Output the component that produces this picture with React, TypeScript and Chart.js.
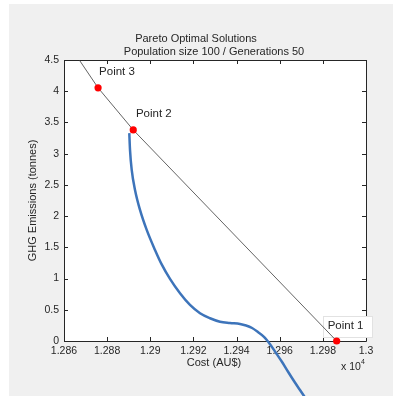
import React, { useEffect, useRef } from "react";
import { Chart, registerables } from "chart.js";
Chart.register(...registerables);

// ---- data ----
const curveCost = [
  12890.27, 12890.6, 12891.39, 12892.92, 12895.24, 12898.34, 12902.19, 12905.29, 12909.14, 12913.78,
  12918.41, 12923.05, 12927.68, 12932.32, 12936.96, 12941.6, 12944.4, 12947.2, 12949.9, 12952.7,
  12955.5, 12958.3, 12961.1, 12963.8, 12966.6, 12969.4, 12972.2,
];
const curveGhg = [
  3.329, 3.061, 2.74, 2.42, 2.099, 1.779, 1.458, 1.226, 0.994, 0.764,
  0.577, 0.444, 0.364, 0.309, 0.288, 0.272, 0.248, 0.208, 0.144, 0.067,
  -0.051, -0.192, -0.337, -0.489, -0.641, -0.785, -0.93,
];

const lineCost = [12867.1, 12875.8, 12892.1, 12986.4];
const lineGhg = [4.5, 4.054, 3.38, 0];

const pointNames = ["Point 1", "Point 2", "Point 3"];
const pointCost = [12986.4, 12892.1, 12875.8];
const pointGhg = [0, 3.38, 4.054];

const xTickMin = 12860;
const xTickMax = 13000;
const xTickStep = 20;
const yTickMin = 0;
const yTickMax = 4.5;
const yTickStep = 0.5;

const titleLines = ["Pareto Optimal Solutions", "Population size 100 / Generations 50"];
const xTitle = "Cost (AU$)";
const yTitle = "GHG Emissions (tonnes)";
const xExponent = "4";

const FONT = '"Liberation Sans", Arial, Helvetica, sans-serif';
const TEXT = "#262626";

// label offsets (style)
const labelOffsets = [
  { dx: -9, dy: -15.5 },
  { dx: 2.7, dy: -16.5 },
  { dx: 1, dy: -16 },
];

const decorPlugin = {
  id: "decor",
  beforeDraw(chart: any) {
    const { ctx, width, height, chartArea } = chart;
    ctx.save();
    ctx.fillStyle = "#ffffff";
    ctx.fillRect(0, 0, width, height);
    ctx.fillStyle = "#f0f0f0";
    ctx.fillRect(9, 4, width - 9, height - 4);
    ctx.fillStyle = "#ffffff";
    ctx.fillRect(chartArea.left, chartArea.top, chartArea.right - chartArea.left, chartArea.bottom - chartArea.top);
    ctx.restore();
  },
  beforeDatasetsDraw(chart: any) {
    const { ctx, chartArea, scales } = chart;
    const { left, right, top, bottom } = chartArea;
    ctx.save();
    ctx.strokeStyle = TEXT;
    ctx.lineWidth = 1;
    ctx.beginPath();
    ctx.rect(Math.round(left) + 0.5, Math.round(top) + 0.5, Math.round(right - left), Math.round(bottom - top));
    ctx.stroke();
    const tl = 4;
    ctx.beginPath();
    scales.x.ticks.forEach((t: any) => {
      const px = Math.round(scales.x.getPixelForValue(t.value)) + 0.5;
      ctx.moveTo(px, bottom);
      ctx.lineTo(px, bottom - tl);
      ctx.moveTo(px, top);
      ctx.lineTo(px, top + tl);
    });
    scales.y.ticks.forEach((t: any) => {
      const py = Math.round(scales.y.getPixelForValue(t.value)) + 0.5;
      ctx.moveTo(left, py);
      ctx.lineTo(left + tl, py);
      ctx.moveTo(right, py);
      ctx.lineTo(right - tl, py);
    });
    ctx.stroke();

    // label box of Point 1
    const p1x = scales.x.getPixelForValue(pointCost[0]);
    const p1y = scales.y.getPixelForValue(pointGhg[0]);
    const bx = p1x - 13.5;
    const by = p1y - 25;
    ctx.fillStyle = "#ffffff";
    ctx.fillRect(bx, by, 49, 21);
    ctx.strokeStyle = "#e2e2e2";
    ctx.strokeRect(Math.round(bx) + 0.5, Math.round(by) + 0.5, 49, 21);
    ctx.restore();
  },
  afterDatasetsDraw(chart: any) {
    const { ctx, scales, chartArea } = chart;
    ctx.save();
    ctx.fillStyle = TEXT;
    ctx.font = `11.5px ${FONT}`;
    ctx.textAlign = "left";
    ctx.textBaseline = "middle";
    pointNames.forEach((name, i) => {
      const px = scales.x.getPixelForValue(pointCost[i]);
      const py = scales.y.getPixelForValue(pointGhg[i]);
      ctx.fillText(name, px + labelOffsets[i].dx, py + labelOffsets[i].dy);
    });

    // titles
    ctx.font = `11px ${FONT}`;
    ctx.textAlign = "center";
    ctx.textBaseline = "alphabetic";
    const cx = (chartArea.left + chartArea.right) / 2;
    ctx.fillText(titleLines[0], cx - 19, 42);
    ctx.fillText(titleLines[1], cx - 1, 55);

    // x title
    ctx.textBaseline = "middle";
    ctx.fillText(xTitle, cx - 1, 363);

    // exponent
    ctx.textAlign = "left";
    ctx.textBaseline = "alphabetic";
    ctx.font = `10.5px ${FONT}`;
    ctx.fillText("x 10", 341, 370);
    ctx.font = `7px ${FONT}`;
    ctx.fillText(xExponent, 361, 364);

    // y title
    ctx.font = `11px ${FONT}`;
    ctx.translate(33, (chartArea.top + chartArea.bottom) / 2);
    ctx.rotate(-Math.PI / 2);
    ctx.textAlign = "center";
    ctx.textBaseline = "middle";
    ctx.fillText(yTitle, 0, 0);
    ctx.restore();
  },
};

export default function App() {
  const ref = useRef<HTMLCanvasElement>(null);
  useEffect(() => {
    document.body.style.margin = "0";
    const canvas = ref.current!;
    const chart = new Chart(canvas, {
      type: "scatter",
      data: {
        datasets: [
          {
            label: "points",
            data: pointCost.map((x, i) => ({ x, y: pointGhg[i] })),
            showLine: false,
            pointRadius: 3.6,
            pointBackgroundColor: "#ff0000",
            pointBorderColor: "#ff0000",
            pointBorderWidth: 0,
            clip: false as any,
            order: 0,
          },
          {
            label: "line",
            data: lineCost.map((x, i) => ({ x, y: lineGhg[i] })),
            showLine: true,
            borderColor: "#3c3c3c",
            borderWidth: 0.8,
            pointRadius: 0,
            tension: 0,
            order: 1,
          },
          {
            label: "curve",
            data: curveCost.map((x, i) => ({ x, y: curveGhg[i] })),
            showLine: true,
            borderColor: "#3d74ba",
            borderWidth: 2.5,
            pointRadius: 0,
            cubicInterpolationMode: "monotone",
            clip: false as any,
            order: 2,
          },
        ],
      },
      options: {
        animation: false,
        responsive: false,
        devicePixelRatio: 1,
        layout: { padding: { left: 0, right: 27, top: 60, bottom: 0 } },
        plugins: { legend: { display: false }, tooltip: { enabled: false }, title: { display: false } },
        scales: {
          x: {
            type: "linear",
            min: xTickMin,
            max: xTickMax,
            grid: { display: false, drawTicks: false },
            border: { display: false },
            ticks: {
              stepSize: xTickStep,
              padding: 4,
              color: TEXT,
              font: { family: FONT, size: 10.5 },
              maxRotation: 0,
              autoSkip: false,
              callback: (v: any) => String(Number((Number(v) / 10000).toFixed(3))),
            },
            afterFit: (s: any) => {
              s.height = 55;
            },
          },
          y: {
            type: "linear",
            min: yTickMin,
            max: yTickMax,
            grid: { display: false, drawTicks: false },
            border: { display: false },
            ticks: {
              stepSize: yTickStep,
              padding: 5,
              color: TEXT,
              font: { family: FONT, size: 10.5 },
              autoSkip: false,
              callback: (v: any) => String(Number(Number(v).toFixed(1))),
            },
            afterFit: (s: any) => {
              s.width = 64;
            },
          },
        },
      },
      plugins: [decorPlugin],
    });
    return () => chart.destroy();
  }, []);
  return <canvas ref={ref} width={393} height={396} style={{ display: "block", width: 393, height: 396 }} />;
}
